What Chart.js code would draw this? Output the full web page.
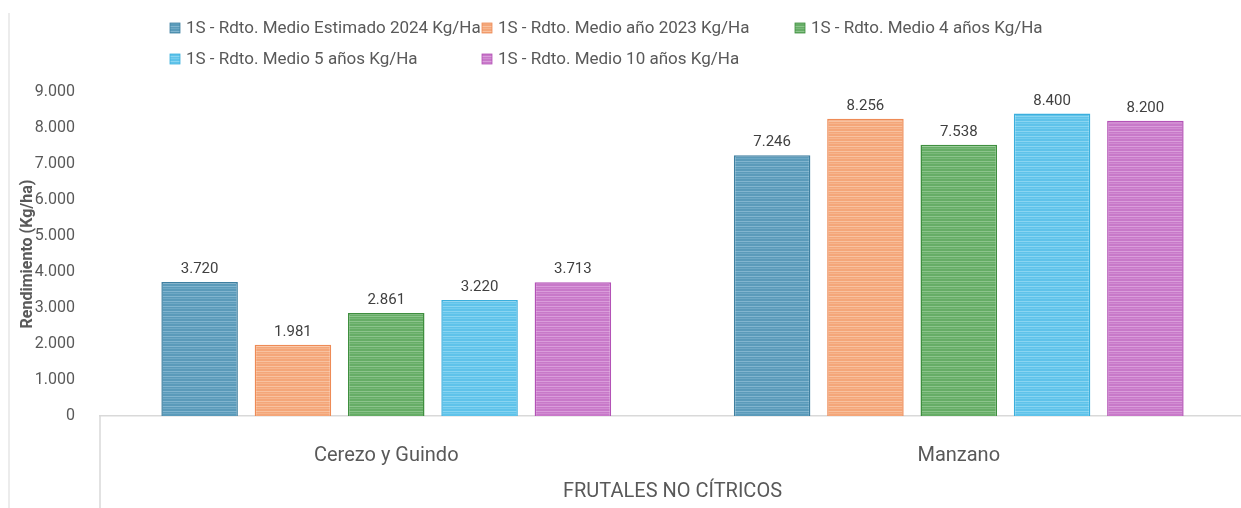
<!DOCTYPE html>
<html>
<head>
<meta charset="utf-8">
<script src="https://cdn.jsdelivr.net/npm/chart.js@4.4.1/dist/chart.umd.min.js"></script>
<style>
  html, body { margin: 0; padding: 0; background: #fff; overflow: hidden; }
  #wrap { width: 1245px; height: 508px; }
</style>
</head>
<body>
<div id="wrap"><canvas id="chart"></canvas></div>
<script>
const categories = ['Cerezo y Guindo', 'Manzano']
const seriesNames = [
  '1S - Rdto. Medio Estimado 2024 Kg/Ha',
  '1S - Rdto. Medio año 2023 Kg/Ha',
  '1S - Rdto. Medio 4 años Kg/Ha',
  '1S - Rdto. Medio 5 años Kg/Ha',
  '1S - Rdto. Medio 10 años Kg/Ha'
]
const estimado2024 = [3720, 7246]
const anio2023 = [1981, 8256]
const medio4 = [2861, 7538]
const medio5 = [3220, 8400]
const medio10 = [3713, 8200]
const yTicks = [0, 1000, 2000, 3000, 4000, 5000, 6000, 7000, 8000, 9000]

const fills = ['#5b9bba', '#f4a679', '#66ad66', '#5fc3ea', '#c879c9']
const lines = ['#82b5cf', '#f8c2a0', '#8cc48c', '#8ad5f1', '#da9ddb']
const borders = ['#3e7fa0', '#ee8b56', '#3f8f3f', '#3bafdd', '#b352b6']

const txt = '#595959'
const fmt = v => String(v).replace(/\B(?=(\d{3})+(?!\d))/g, '.')

// striped fill like the original picture
function stripes(base, light) {
  const c = document.createElement('canvas')
  c.width = 8; c.height = 5
  const g = c.getContext('2d')
  g.fillStyle = base
  g.fillRect(0, 0, 8, 5)
  g.fillStyle = light
  g.fillRect(0, 1, 8, 1)
  g.globalAlpha = 0.5
  g.fillRect(0, 3, 8, 1)
  return g.createPattern(c, 'repeat')
}
const patterns = fills.map((f, i) => stripes(f, lines[i]))

const values = [estimado2024, anio2023, medio4, medio5, medio10]

const legendGrid = {
  id: 'legendGrid',
  afterDraw(chart) {
    const ctx = chart.ctx
    const cols = [170, 482, 795]
    const rows = [28, 59]
    ctx.save()
    ctx.font = '17px Roboto'
    ctx.textBaseline = 'middle'
    chart.data.datasets.forEach((ds, i) => {
      const x = cols[i % 3]
      const y = rows[Math.floor(i / 3)]
      ctx.fillStyle = patterns[i]
      ctx.fillRect(x, y - 5, 10, 10)
      ctx.strokeStyle = borders[i]
      ctx.lineWidth = 0.8
      ctx.strokeRect(x, y - 5, 10, 10)
      ctx.fillStyle = txt
      ctx.fillText(ds.label, x + 16, y + 1)
    })
    ctx.restore()
  }
}

const valueLabels = {
  id: 'valueLabels',
  afterDatasetsDraw(chart) {
    const ctx = chart.ctx
    ctx.save()
    ctx.font = '15px Roboto'
    ctx.fillStyle = '#404040'
    ctx.textAlign = 'center'
    ctx.textBaseline = 'alphabetic'
    chart.data.datasets.forEach((ds, i) => {
      chart.getDatasetMeta(i).data.forEach((bar, j) => {
        ctx.fillText(fmt(ds.data[j]), bar.x, bar.y - 9)
      })
    })
    ctx.restore()
  }
}

const frame = {
  id: 'frame',
  afterDraw(chart) {
    const ctx = chart.ctx
    const a = chart.chartArea
    ctx.save()
    ctx.strokeStyle = '#d9d9d9'
    ctx.lineWidth = 1.5
    ctx.beginPath()
    ctx.moveTo(a.left, a.bottom)
    ctx.lineTo(a.left, chart.height)
    ctx.stroke()
    ctx.strokeStyle = '#e6e6e6'
    ctx.beginPath()
    ctx.moveTo(9, 13)
    ctx.lineTo(9, chart.height)
    ctx.stroke()
    ctx.restore()
  }
}

const ctx = document.getElementById('chart').getContext('2d')
const myChart = new Chart(ctx, {
  type: 'bar',
  data: {
    labels: categories,
    datasets: seriesNames.map((name, i) => ({
      label: name,
      data: values[i],
      backgroundColor: patterns[i],
      borderColor: borders[i],
      borderWidth: 1.5,
      categoryPercentage: 0.815,
      barPercentage: 0.82
    }))
  },
  options: {
    responsive: true,
    maintainAspectRatio: false,
    animation: false,
    layout: { padding: { top: 92, left: 0, right: 0, bottom: 0 } },
    plugins: {
      legend: { display: false },
      tooltip: { enabled: false }
    },
    scales: {
      x: {
        grid: { display: false },
        border: { display: true, color: '#d9d9d9', width: 1.5 },
        ticks: { color: txt, font: { family: 'Roboto', size: 20 }, padding: 20 },
        title: {
          display: true, text: 'FRUTALES NO CÍTRICOS', color: txt,
          font: { family: 'Roboto', size: 20 }, padding: { top: 0, bottom: 4 }
        },
        afterFit(s) { s.height = 92 }
      },
      y: {
        min: 0, max: 9000,
        afterBuildTicks(s) { s.ticks = yTicks.map(v => ({ value: v })) },
        grid: { display: false },
        border: { display: false },
        ticks: { color: txt, font: { family: 'Roboto', size: 16 }, padding: 17, callback: v => fmt(v) },
        title: {
          display: true, text: 'Rendimiento (Kg/ha)', color: txt,
          font: { family: 'Roboto', size: 16, weight: 'bold' }, padding: { top: 18, bottom: 0 }
        },
        afterFit(s) { s.width = 100 }
      }
    }
  },
  plugins: [legendGrid, valueLabels, frame]
})
</script>
</body>
</html>
